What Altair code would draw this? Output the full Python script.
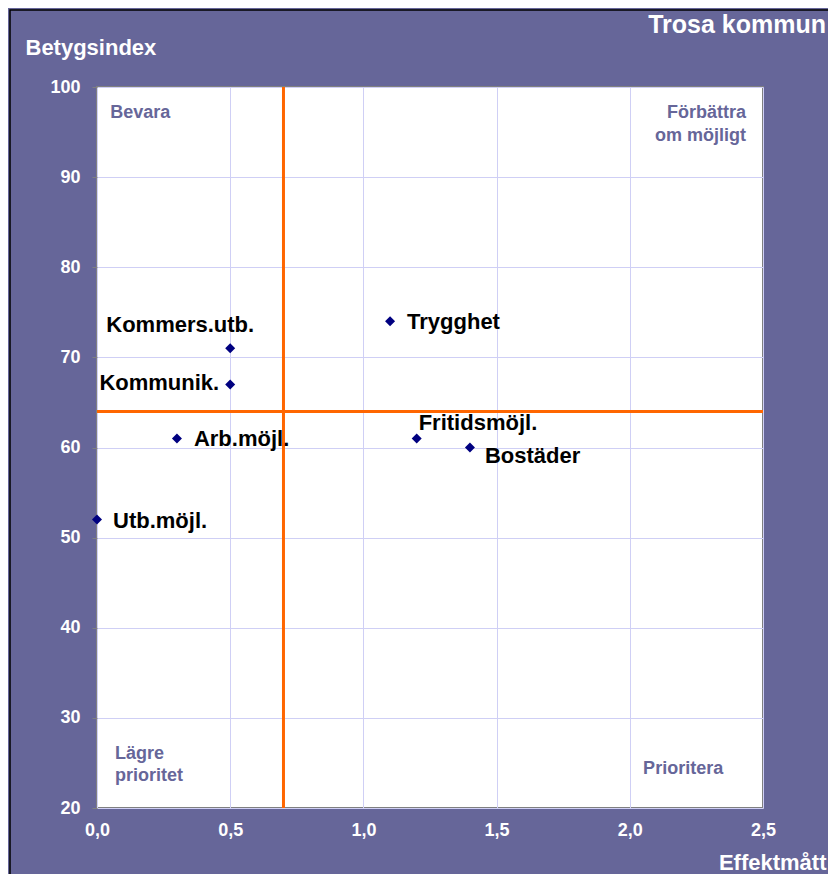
import altair as alt
import pandas as pd

# ---- data ----
names = ["Trygghet", "Kommers.utb.", "Kommunik.", "Arb.möjl.", "Fritidsmöjl.", "Bostäder", "Utb.möjl."]
effekt = [1.1, 0.5, 0.5, 0.3, 1.2, 1.4, 0.0]
betyg = [74, 71, 67, 61, 61, 60, 52]

x_ticks = [0.0, 0.5, 1.0, 1.5, 2.0, 2.5]
y_ticks = [20, 30, 40, 50, 60, 70, 80, 90, 100]
x_ref = [0.7]
y_ref = [64]

quad_text = ["Bevara", "Förbättra", "om möjligt", "Lägre", "prioritet", "Prioritera"]
quad_x = [0.05, 2.436, 2.436, 0.068, 0.068, 2.05]
quad_y = [97.1, 97.1, 94.6, 26.0, 23.6, 24.3]
quad_align = ["left", "right", "right", "left", "left", "left"]

title_text = "Trosa kommun"
x_title = "Effektmått"
y_title = "Betygsindex"

# label placement (style, per label): align, dx, dy
label_style = {
    "Trygghet": ("left", 17, 1),
    "Kommers.utb.": ("center", -50, -23),
    "Kommunik.": ("right", -11, -1),
    "Arb.möjl.": ("left", 17, 1),
    "Fritidsmöjl.": ("left", 2, -15),
    "Bostäder": ("left", 15, 8),
    "Utb.möjl.": ("left", 16, 1),
}

FONT = "Liberation Sans, Arial, sans-serif"
PURPLE = "#666699"
W, H = 666, 721

df = pd.DataFrame({"name": names, "x": effekt, "y": betyg})
quad_df = pd.DataFrame({"t": quad_text, "x": quad_x, "y": quad_y, "a": quad_align})

xscale = alt.Scale(domain=[0, 2.5], nice=False, zero=False)
yscale = alt.Scale(domain=[20, 100], nice=False, zero=False)

xenc = alt.X("x:Q", scale=xscale, axis=alt.Axis(
    values=x_ticks, grid=True, gridColor="#CFCFF5", gridWidth=1,
    domain=False, ticks=False,
    labelExpr="replace(format(datum.value, '.1f'), '.', ',')",
    labelFont=FONT, labelFontSize=18, labelFontWeight="bold", labelColor="white",
    labelPadding=13, labelBaseline="top", labelFlush=False, labelOverlap=False,
    title=x_title, titleFont=FONT, titleFontSize=22, titleFontWeight="bold",
    titleColor="white", titleAlign="right", titleBaseline="alphabetic",
    titleX=729, titleY=61, titleAngle=0,
))
yenc = alt.Y("y:Q", scale=yscale, axis=alt.Axis(
    values=y_ticks, grid=True, gridColor="#CFCFF5", gridWidth=1,
    domain=False, ticks=True, tickColor="#808080", tickSize=5,
    labelFont=FONT, labelFontSize=18, labelFontWeight="bold", labelColor="white",
    labelPadding=12, labelFlush=False, labelOverlap=False,
    title=y_title, titleFont=FONT, titleFontSize=22, titleFontWeight="bold",
    titleColor="white", titleAlign="left", titleBaseline="alphabetic",
    titleAngle=0, titleX=-72, titleY=-33,
))

base = alt.Chart(df)

points = base.mark_point(shape="diamond", filled=True, size=100, color="#000080", opacity=1).encode(
    x=xenc, y=yenc
)

label_layers = []
for n in names:
    a, dx, dy = label_style[n]
    label_layers.append(
        base.transform_filter(alt.datum.name == n).mark_text(
            align=a, baseline="middle", dx=dx, dy=dy,
            font=FONT, fontSize=22, fontWeight="bold", color="black"
        ).encode(x=alt.X("x:Q", scale=xscale), y=alt.Y("y:Q", scale=yscale), text="name:N")
    )

vrule = alt.Chart(pd.DataFrame({"x": x_ref})).mark_rule(color="#FF6600", strokeWidth=3).encode(
    x=alt.X("x:Q", scale=xscale)
)
hrule = alt.Chart(pd.DataFrame({"y": y_ref})).mark_rule(color="#FF6600", strokeWidth=3).encode(
    y=alt.Y("y:Q", scale=yscale)
)

quad_layers = []
for al in ["left", "right"]:
    quad_layers.append(
        alt.Chart(quad_df).transform_filter(alt.datum.a == al).mark_text(
            align=al, baseline="middle", font=FONT, fontSize=18, fontWeight="bold", color=PURPLE
        ).encode(x=alt.X("x:Q", scale=xscale), y=alt.Y("y:Q", scale=yscale), text="t:N")
    )

title_mark = alt.Chart(pd.DataFrame({"t": [title_text]})).mark_text(
    align="right", baseline="alphabetic", font=FONT, fontSize=25, fontWeight="bold", color="white"
).encode(x=alt.value(729), y=alt.value(-54), text="t:N")

border = alt.Chart(pd.DataFrame({"t": [0]})).mark_rect(
    fill="transparent", stroke="black", strokeWidth=1.5
).encode(x=alt.value(-87), x2=alt.value(800), y=alt.value(-77), y2=alt.value(900))

chart = alt.layer(
    vrule, hrule, *quad_layers, points, *label_layers, title_mark, border
).properties(
    width=W, height=H,
    autosize=alt.AutoSizeParams(type="none"),
    padding={"left": 89, "top": 79, "right": 65, "bottom": 66},
    background=PURPLE,
).configure_view(
    fill="white", stroke="#808080", strokeWidth=2
)

chart.save("out.html", embed_options={"renderer": "svg", "actions": False})
